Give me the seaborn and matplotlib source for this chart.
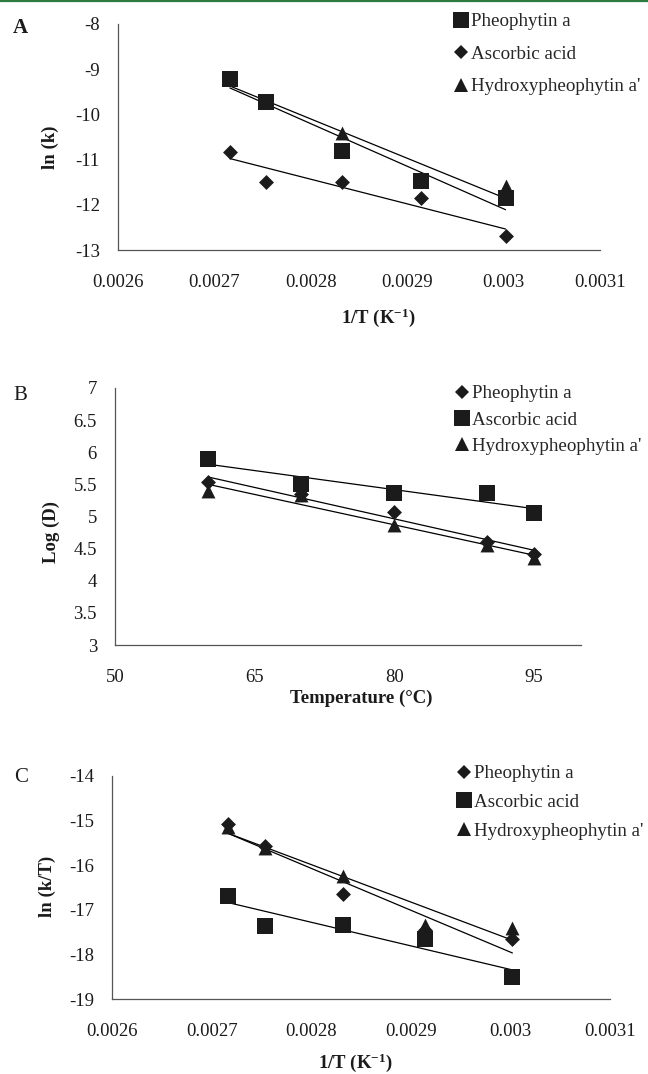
import numpy as np
import pandas as pd
import matplotlib
matplotlib.use("Agg")
import matplotlib.pyplot as plt
import seaborn as sns
from matplotlib.lines import Line2D
from matplotlib.ticker import FixedLocator, FixedFormatter

# ---------------- data ----------------
inv_T = [0.002716, 0.002754, 0.002832, 0.002914, 0.003002]   # 1/T (K^-1)
temp_C = [60, 70, 80, 90, 95]                                  # temperature (°C)

# Panel A: ln(k)
lnk_pheophytin = [-9.22, -9.72, -10.81, -11.47, -11.86]
lnk_ascorbic = [-10.83, -11.50, -11.50, -11.85, -12.68]
lnk_hydroxy = [-9.22, -9.72, -10.41, -11.47, -11.58]

# Panel B: log(D)
logD_pheophytin = [5.53, 5.35, 5.07, 4.61, 4.42]
logD_ascorbic = [5.89, 5.51, 5.37, 5.36, 5.06]
logD_hydroxy = [5.39, 5.34, 4.87, 4.56, 4.35]

# Panel C: ln(k/T)
lnkT_pheophytin = [-15.08, -15.57, -16.65, -17.45, -17.65]
lnkT_ascorbic = [-16.69, -17.36, -17.34, -17.65, -18.51]
lnkT_hydroxy = [-15.15, -15.62, -16.24, -17.34, -17.41]

series_names = ["Pheophytin a", "Ascorbic acid", "Hydroxypheophytin a'"]

invT_ticks = [0.0026, 0.0027, 0.0028, 0.0029, 0.0030, 0.0031]
invT_ticklabels = ["0.0026", "0.0027", "0.0028", "0.0029", "0.003", "0.0031"]
lnk_ticks = [-13, -12, -11, -10, -9, -8]
lnkT_ticks = [-19, -18, -17, -16, -15, -14]
logD_ticks = [3, 3.5, 4, 4.5, 5, 5.5, 6, 6.5, 7]
temp_ticks = [50, 65, 80, 95]

# ---------------- style ----------------
sns.set_style("white")
plt.rcParams["font.family"] = ["Liberation Serif", "DejaVu Serif"]
plt.rcParams["axes.unicode_minus"] = False
plt.rcParams["mathtext.fontset"] = "custom"
plt.rcParams["mathtext.rm"] = "Liberation Serif"
plt.rcParams["mathtext.bf"] = "Liberation Serif:bold"
plt.rcParams["mathtext.it"] = "Liberation Serif:italic"

W, H = 648, 1074
fig = plt.figure(figsize=(W / 100, H / 100), dpi=100)
fig.patch.set_facecolor("white")

INK = "#1b1b1b"
AXC = "#555555"
TICK_FS = 13.5
LAB_FS = 13.5
LEG_FS = 13.7

MSIZE = {"s": 11.0, "D": 7.6, "^": 10.0}


def add_axes_px(left, right, top, bottom):
    return fig.add_axes([left / W, 1 - bottom / H, (right - left) / W, (bottom - top) / H])


def style_axes(ax, xlim, ylim, xticks, xlabels, yticks, ylabels):
    ax.set_xlim(*xlim)
    ax.set_ylim(*ylim)
    ax.xaxis.set_major_locator(FixedLocator(xticks))
    ax.xaxis.set_major_formatter(FixedFormatter(xlabels))
    ax.yaxis.set_major_locator(FixedLocator(yticks))
    ax.yaxis.set_major_formatter(FixedFormatter(ylabels))
    for side in ("top", "right"):
        ax.spines[side].set_visible(False)
    for side in ("left", "bottom"):
        ax.spines[side].set_color(AXC)
        ax.spines[side].set_linewidth(0.9)
    ax.tick_params(axis="both", direction="out", length=3, width=0.8, color=AXC,
                   labelsize=TICK_FS, labelcolor=INK)
    ax.tick_params(axis="x", pad=14)
    ax.tick_params(axis="y", pad=10)
    ax.set_facecolor("white")
    ax.grid(False)


def draw_series(ax, x, y, marker, z):
    sns.regplot(x=np.asarray(x), y=np.asarray(y), ax=ax, scatter=False, ci=None,
                truncate=True, color="black", line_kws=dict(lw=0.9, zorder=2))
    sns.scatterplot(x=x, y=y, ax=ax, marker=marker, s=MSIZE[marker] ** 2,
                    color=INK, linewidth=0, zorder=z, legend=False)


def add_legend(markers, marker_x, first_row, spacing_em):
    handles = [Line2D([], [], ls="none", marker=m, color=INK, markeredgewidth=0,
                      markersize=MSIZE[m]) for m in markers]
    hl = 0.8
    left = marker_x - hl * LEG_FS * 100 / 72 / 2
    top = first_row - 7
    fig.legend(handles, series_names, loc="upper left",
               bbox_to_anchor=(left / W, 1 - top / H), frameon=False,
               borderpad=0, borderaxespad=0, handlelength=hl, handletextpad=0.12,
               labelspacing=spacing_em, prop={"family": "Liberation Serif", "size": LEG_FS})


def place_labels(ax, xlabel, xl_pos, ylabel, yl_pos):
    ax.set_xlabel(xlabel, fontsize=LAB_FS, fontweight="bold", color=INK)
    ax.xaxis.set_label_coords(xl_pos[0] / W, 1 - xl_pos[1] / H, transform=fig.transFigure)
    ax.xaxis.label.set_va("center")
    ax.set_ylabel(ylabel, fontsize=LAB_FS, fontweight="bold", color=INK)
    ax.yaxis.set_label_coords(yl_pos[0] / W, 1 - yl_pos[1] / H, transform=fig.transFigure)
    ax.yaxis.label.set_va("center")
    ax.yaxis.label.set_ha("center")


invT_label = r"1/T (K$\mathbf{^{-1}}$)"

# ---------------- panel A ----------------
axA = add_axes_px(118, 600, 24, 250)
draw_series(axA, inv_T, lnk_hydroxy, "^", 3)
draw_series(axA, inv_T, lnk_ascorbic, "D", 4)
draw_series(axA, inv_T, lnk_pheophytin, "s", 5)
style_axes(axA, (0.0026, 0.0031), (-13, -8), invT_ticks, invT_ticklabels,
           lnk_ticks, [str(v) for v in lnk_ticks])
place_labels(axA, invT_label, (378, 318), "ln (k)", (50, 147))
add_legend(["s", "D", "^"], 461, 20, 0.80)
fig.text(20 / W, 1 - 28 / H, "A", fontsize=15, fontweight="bold", ha="center", va="center", color=INK)

# ---------------- panel B ----------------
axB = add_axes_px(115, 580.5, 388, 645)
draw_series(axB, temp_C, logD_hydroxy, "^", 3)
draw_series(axB, temp_C, logD_pheophytin, "D", 4)
draw_series(axB, temp_C, logD_ascorbic, "s", 5)
style_axes(axB, (50, 100), (3, 7), temp_ticks, [str(v) for v in temp_ticks],
           logD_ticks, [f"{v:g}" for v in logD_ticks])
place_labels(axB, "Temperature (°C)", (361, 698), "Log (D)", (51, 532))
add_legend(["D", "s", "^"], 462, 392, 0.47)
fig.text(20 / W, 1 - 395 / H, "B", fontsize=15, ha="center", va="center", color=INK)

# ---------------- panel C ----------------
axC = add_axes_px(112, 610, 776, 999)
draw_series(axC, inv_T, lnkT_hydroxy, "^", 4)
draw_series(axC, inv_T, lnkT_pheophytin, "D", 3)
draw_series(axC, inv_T, lnkT_ascorbic, "s", 5)
style_axes(axC, (0.0026, 0.0031), (-19, -14), invT_ticks, invT_ticklabels,
           lnkT_ticks, [str(v) for v in lnkT_ticks])
place_labels(axC, invT_label, (355, 1063), "ln (k/T)", (47, 886))
add_legend(["D", "s", "^"], 464, 772, 0.60)
fig.text(21 / W, 1 - 777 / H, "C", fontsize=15, ha="center", va="center", color=INK)

# thin green rule along the top edge
fig.add_artist(Line2D([0, 1], [1 - 1.2 / H, 1 - 1.2 / H], transform=fig.transFigure,
                      color="#2b7a40", lw=1.6))

fig.savefig("out.png", dpi=100, facecolor="white")
